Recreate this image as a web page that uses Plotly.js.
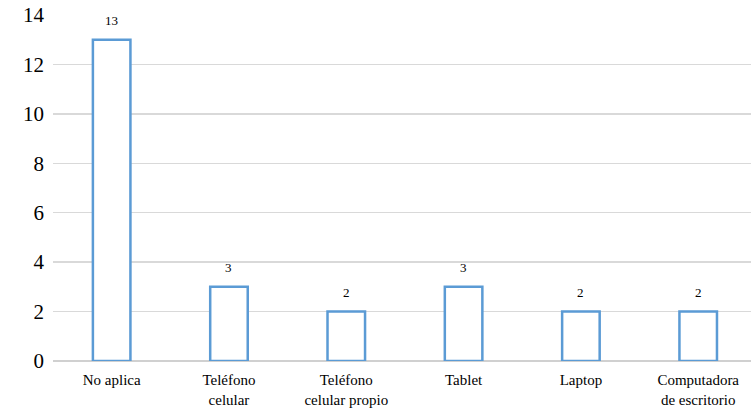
<!DOCTYPE html>
<html>
<head>
<meta charset="utf-8">
<script src="https://cdn.plot.ly/plotly-3.0.1.min.js"></script>
<style>
  html, body { margin: 0; padding: 0; background: #ffffff; }
  #chart { width: 751px; height: 417px; }
  #chart svg text { font-family: 'Liberation Serif', 'Times New Roman', serif !important; }
</style>
</head>
<body>
<div id="chart"></div>
<script>
// Device categories and counts
const categories = ['No aplica', 'Teléfono<br>celular', 'Teléfono<br>celular propio', 'Tablet', 'Laptop', 'Computadora<br>de escritorio'];
const counts = [13, 3, 2, 3, 2, 2];
const yTicks = [0, 2, 4, 6, 8, 10, 12, 14];

const barColor = '#5B9BD5';
const serif = 'Liberation Serif';

const trace = {
  type: 'bar',
  x: categories,
  y: counts,
  width: 0.32,
  marker: { color: '#ffffff', line: { color: barColor, width: 2.5 } },
  hoverinfo: 'skip'
};

// Value labels above each bar
const annotations = categories.map((c, i) => ({
  x: c,
  y: counts[i],
  text: String(counts[i]),
  showarrow: false,
  yanchor: 'bottom',
  yshift: 10,
  font: { family: serif, size: 13, color: '#000000' }
}));

const layout = {
  width: 751,
  height: 417,
  margin: { l: 53, r: 0, t: 15, b: 56 },
  paper_bgcolor: '#ffffff',
  plot_bgcolor: '#ffffff',
  showlegend: false,
  font: { family: serif, color: '#000000' },
  xaxis: {
    type: 'category',
    range: [-0.5, 5.45],
    showgrid: false,
    showline: false,
    zeroline: false,
    ticks: '',
    ticklabelstandoff: 8,
    tickfont: { family: serif, size: 15, color: '#000000' }
  },
  yaxis: {
    range: [0, 14],
    tickvals: yTicks,
    ticktext: yTicks.map(String),
    showgrid: true,
    gridcolor: '#d9d9d9',
    gridwidth: 1.5,
    zeroline: true,
    zerolinecolor: '#d0d0d0',
    zerolinewidth: 2,
    showline: false,
    ticks: '',
    ticklabelstandoff: 8,
    tickfont: { family: serif, size: 21, color: '#000000' }
  },
  annotations: annotations
};

Plotly.newPlot('chart', [trace], layout, { displayModeBar: false, staticPlot: true });
</script>
</body>
</html>
